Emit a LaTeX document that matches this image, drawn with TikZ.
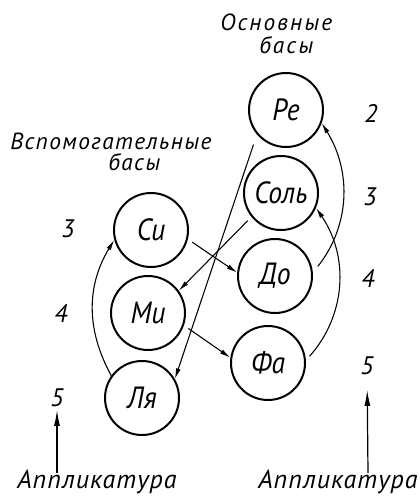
\documentclass[tikz,border=0pt]{standalone}
\usepackage{fontspec}
\setmainfont{PT Sans}
\usetikzlibrary{arrows.meta}
\newcommand{\dtxt}[1]{\itshape\addfontfeature{LetterSpace=#1}}
\begin{document}
\begin{tikzpicture}[x=0.75pt,y=-0.75pt,
  note/.style={circle, draw, line width=1.5pt, minimum size=55.5pt, inner sep=0pt,
    font=\fontsize{23}{25}\selectfont\itshape\addfontfeature{FakeStretch=0.9}},
  lbl/.style={inner sep=0pt, anchor=base west},
  num/.style={font=\fontsize{19}{19}\selectfont\itshape, inner sep=1pt},
  app/.style={font=\fontsize{19.5}{19.5}\selectfont\dtxt{4}, inner sep=0pt, anchor=base},
  conn/.style={line width=0.8pt, -{Latex[length=8pt,width=3.6pt]}},
  fing/.style={line width=0.9pt, -{Latex[length=12pt,width=4.5pt]}}]
\useasboundingbox (0,0) rectangle (419,500);
% notes
\node[note] (Re)  at (286,110) {Ре};
\node[note] (Sol) at (281,193) {Соль};
\node[note] (Si)  at (151,230) {Си};
\node[note] (Do)  at (275,276) {До};
\node[note] (Mi)  at (148,313) {Ми};
\node[note] (Fa)  at (268,363) {Фа};
\node[note] (La)  at (142,398) {Ля};
% headings
\node[lbl, font=\fontsize{17.5}{17.5}\selectfont\dtxt{9}] (hmainA) at (220,30) {Основные};
\node[lbl, font=\fontsize{17.5}{17.5}\selectfont\dtxt{9}] (hmainB) at (259,53) {басы};
\node[lbl, font=\fontsize{17.5}{17.5}\selectfont\dtxt{6}] (hauxA) at (10,149) {Вспомогательные};
\node[lbl, font=\fontsize{17.5}{17.5}\selectfont\dtxt{6}] (hauxB) at (108,170) {басы};
% numbers
\node[num] (l3) at (68,229) {3};
\node[num] (l4) at (61,313) {4};
\node[num] (l5) at (57,398) {5};
\node[num] (r2) at (371,113) {2};
\node[num] (r3) at (370,197) {3};
\node[num] (r4) at (368,278) {4};
\node[num] (r5) at (367,366) {5};
% fingering labels
\node[app] (appL) at (97,488) {Аппликатура};
\node[app] (appR) at (338,488) {Аппликатура};
\coordinate (aL) at (57,473);
\coordinate (aR) at (368,473);
% connectors
\draw[conn, shorten <=8pt] (Re.220) -- (La.30);
\draw[conn, shorten <=4pt] (Sol.219) -- (Mi.36);
\draw[conn, shorten <=4pt] (Si.-14) -- (Do.175);
\draw[conn, shorten <=4pt] (Mi.-19) -- (Fa.172);
\draw[conn] (La.144) to[bend left=30] (Si.195);
\draw[conn, shorten <=6pt] (Do.5) to[bend right=35] (Re.-20);
\draw[conn, shorten <=4pt] (Fa.4) to[bend right=38] (Sol.-23);
\draw[fing, shorten >=1pt] (aL) -- (l5);
\draw[fing, shorten >=10pt] (aR) -- (r5);
\end{tikzpicture}
\end{document}
